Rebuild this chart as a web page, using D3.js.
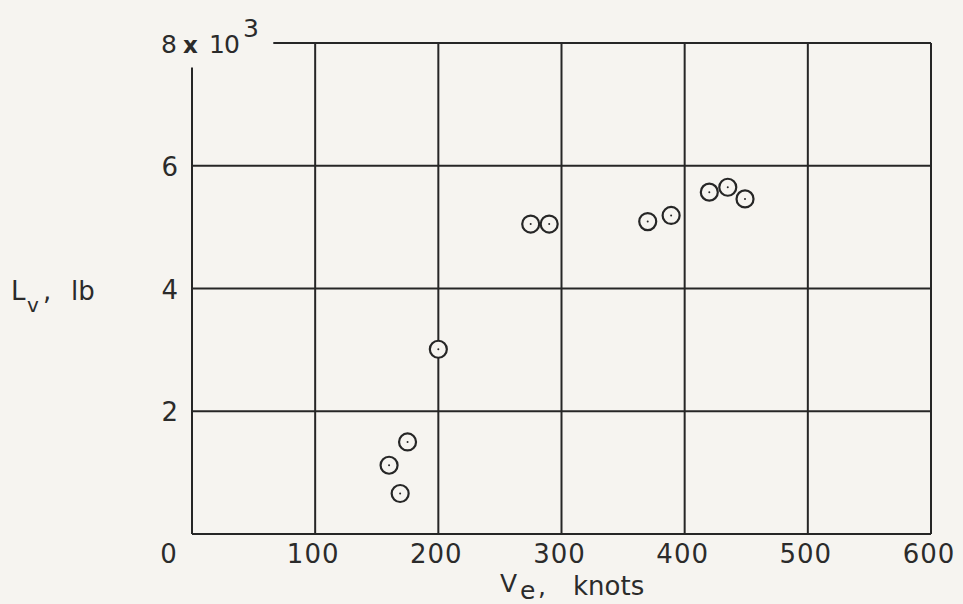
<!DOCTYPE html>
<html>
<head>
<meta charset="utf-8">
<script src="https://cdn.jsdelivr.net/npm/d3@7"></script>
<style>
  body { margin: 0; background: #f6f4f0; }
  svg { display: block; }
  text { font-family: "DejaVu Sans", sans-serif; fill: #2b2b2b; }
</style>
</head>
<body>
<svg width="963" height="604"></svg>
<script>
// Lift vs equivalent airspeed (lift in thousands of lb)
const speeds = [160, 169, 175, 200, 275, 290, 370, 389, 420, 435, 449];
const lifts = [1.12, 0.66, 1.50, 3.01, 5.05, 5.05, 5.09, 5.19, 5.57, 5.65, 5.46];
const xTicks = [0, 100, 200, 300, 400, 500, 600];
const yTicks = [2, 4, 6, 8];
const xTickLabels = ["0", "100", "200", "300", "400", "500", "600"];
const yTickLabels = ["2", "4", "6", "8"];

const svg = d3.select("svg");
const x = d3.scaleLinear().domain([0, 600]).range([192, 931]);
const y = d3.scaleLinear().domain([0, 8]).range([534, 43]);

const ink = "#262626";
const grid = svg.append("g").attr("stroke", ink).attr("stroke-width", 2).attr("fill", "none");

// vertical grid lines (100..600) run the full height
grid.selectAll("line.v")
    .data(xTicks.slice(1))
    .join("line")
    .attr("x1", d => x(d)).attr("x2", d => x(d))
    .attr("y1", y(0)).attr("y2", y(8));

// left axis stops short of the top to leave room for the 8 x 10^3 label
grid.append("line")
    .attr("x1", x(0)).attr("x2", x(0))
    .attr("y1", y(0)).attr("y2", y(7.6));

// horizontal lines at 0,2,4,6
grid.selectAll("line.h")
    .data([0, 2, 4, 6])
    .join("line")
    .attr("x1", x(0)).attr("x2", x(600))
    .attr("y1", d => y(d)).attr("y2", d => y(d));

// top line, starts after the label
grid.append("line")
    .attr("x1", x(66)).attr("x2", x(600))
    .attr("y1", y(8)).attr("y2", y(8));

// x tick labels
svg.append("g").selectAll("text")
    .data(xTicks)
    .join("text")
    .attr("x", (d, i) => i === 0 ? x(d) - 23 : x(d) - 2)
    .attr("y", 563)
    .attr("text-anchor", "middle")
    .attr("font-size", 26)
    .attr("letter-spacing", 1)
    .text((d, i) => xTickLabels[i]);

// y tick labels (8 gets the multiplier)
svg.append("g").selectAll("text")
    .data(yTicks.slice(0, 3))
    .join("text")
    .attr("x", 178)
    .attr("y", d => y(d) + 10)
    .attr("text-anchor", "end")
    .attr("font-size", 26)
    .text((d, i) => yTickLabels[i]);

const topLabel = svg.append("g").attr("font-size", 25);
topLabel.append("text").attr("x", 161).attr("y", 53).text(yTickLabels[3]);
topLabel.append("text").attr("x", 183).attr("y", 53).attr("font-size", 23).attr("font-weight", "bold").text("x");
topLabel.append("text").attr("x", 209).attr("y", 53).attr("letter-spacing", -1).text("10");
topLabel.append("text").attr("x", 243).attr("y", 37).text("3");

// axis titles
const yTitle = svg.append("g").attr("font-size", 26);
yTitle.append("text").attr("x", 11).attr("y", 300).text("L");
yTitle.append("text").attr("x", 27).attr("y", 312).attr("font-size", 20).text("v");
yTitle.append("text").attr("x", 43).attr("y", 300).text(",");
yTitle.append("text").attr("x", 71).attr("y", 300).text("lb");

const xTitle = svg.append("g").attr("font-size", 25);
xTitle.append("text").attr("x", 500).attr("y", 592).text("V");
xTitle.append("text").attr("x", 520).attr("y", 599).attr("font-size", 25).text("e");
xTitle.append("text").attr("x", 538).attr("y", 595).text(",");
xTitle.append("text").attr("x", 573).attr("y", 595).attr("font-size", 26).text("knots");

// data points: open circles with a centre dot
const pts = speeds.map((s, i) => ({ s: s, l: lifts[i] }));
const marks = svg.append("g");
marks.selectAll("circle.o")
    .data(pts)
    .join("circle")
    .attr("cx", d => x(d.s))
    .attr("cy", d => y(d.l))
    .attr("r", 8.5)
    .attr("fill", "#f6f4f0")
    .attr("stroke", ink)
    .attr("stroke-width", 2.2);
marks.selectAll("circle.c")
    .data(pts)
    .join("circle")
    .attr("cx", d => x(d.s))
    .attr("cy", d => y(d.l))
    .attr("r", 1)
    .attr("fill", ink);
</script>
</body>
</html>
